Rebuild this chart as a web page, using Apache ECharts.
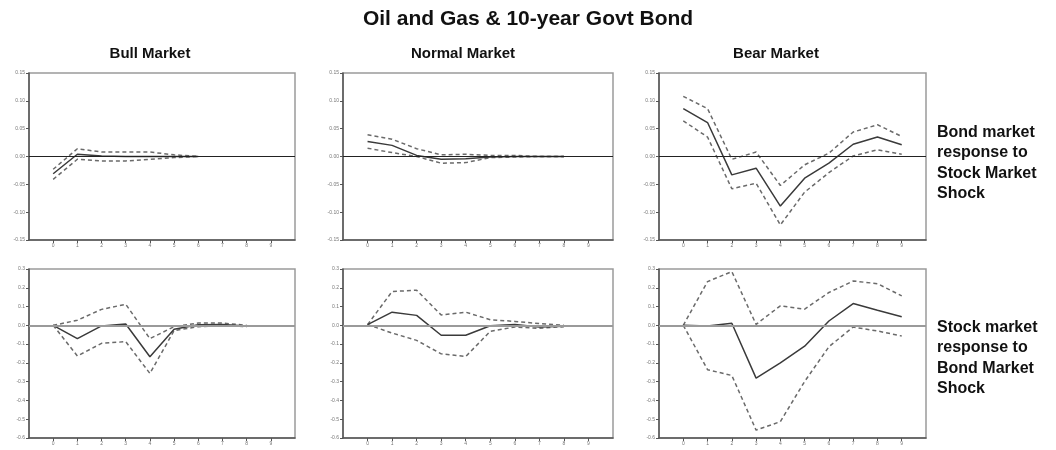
<!DOCTYPE html>
<html><head><meta charset="utf-8">
<script src="https://cdn.jsdelivr.net/npm/echarts@6/dist/echarts.min.js"></script>
<style>html,body{margin:0;padding:0;background:#fff}#c{width:1056px;height:450px}</style>
</head><body><div id="c"></div>
<script>
// ---- data ----
var mainTitle = 'Oil and Gas & 10-year Govt Bond';
var columnTitles = ['Bull Market', 'Normal Market', 'Bear Market'];
var rowLabels = ['Bond market\nresponse to\nStock Market\nShock', 'Stock market\nresponse to\nBond Market\nShock'];
var xTickLabels = ['0','1','2','3','4','5','6','7','8','9'];
var bondTicks = [-0.15, -0.10, -0.05, 0.00, 0.05, 0.10, 0.15];
var stockTicks = [-0.6, -0.5, -0.4, -0.3, -0.2, -0.1, 0.0, 0.1, 0.2, 0.3];

// Bond market response to stock market shock
var bullBondMid = [-0.031, 0.004, 0.001, 0.000, 0.000, 0.000, 0.000];
var bullBondUp  = [-0.023, 0.014, 0.008, 0.008, 0.008, 0.003, 0.000];
var bullBondLo  = [-0.041, -0.005, -0.008, -0.008, -0.005, -0.002, 0.000];

var normBondMid = [0.027, 0.020, 0.002, -0.005, -0.004, -0.001, 0.000, 0.000, 0.000];
var normBondUp  = [0.039, 0.031, 0.014, 0.003, 0.004, 0.002, 0.002, 0.000, 0.000];
var normBondLo  = [0.015, 0.007, 0.000, -0.012, -0.011, -0.002, -0.001, 0.000, 0.000];

var bearBondMid = [0.086, 0.061, -0.033, -0.021, -0.089, -0.039, -0.012, 0.022, 0.035, 0.021];
var bearBondUp  = [0.108, 0.086, -0.005, 0.008, -0.052, -0.015, 0.006, 0.044, 0.057, 0.036];
var bearBondLo  = [0.064, 0.035, -0.058, -0.048, -0.123, -0.064, -0.029, 0.001, 0.012, 0.004];

// Stock market response to bond market shock
var bullStockMid = [0.000, -0.071, -0.003, 0.007, -0.167, -0.021, 0.003, 0.005, -0.003];
var bullStockUp  = [0.000, 0.027, 0.085, 0.112, -0.071, -0.007, 0.012, 0.012, 0.000];
var bullStockLo  = [0.000, -0.163, -0.096, -0.087, -0.256, -0.028, -0.007, -0.002, -0.007];

var normStockMid = [0.004, 0.070, 0.053, -0.053, -0.053, -0.002, 0.005, -0.009, -0.005];
var normStockUp  = [0.004, 0.180, 0.187, 0.055, 0.070, 0.030, 0.021, 0.009, 0.000];
var normStockLo  = [0.004, -0.041, -0.080, -0.152, -0.166, -0.032, -0.009, -0.016, -0.007];

var bearStockMid = [0.000, -0.004, 0.011, -0.281, -0.200, -0.111, 0.023, 0.116, 0.080, 0.046];
var bearStockUp  = [0.000, 0.233, 0.286, 0.005, 0.104, 0.086, 0.175, 0.236, 0.222, 0.157];
var bearStockLo  = [0.000, -0.236, -0.267, -0.558, -0.513, -0.299, -0.114, -0.009, -0.030, -0.057];

var panels = [
  [bullBondMid, bullBondUp, bullBondLo],
  [normBondMid, normBondUp, normBondLo],
  [bearBondMid, bearBondUp, bearBondLo],
  [bullStockMid, bullStockUp, bullStockLo],
  [normStockMid, normStockUp, normStockLo],
  [bearStockMid, bearStockUp, bearStockLo]
];

// ---- layout ----
var colLeft = [29, 343, 659];
var colWidth = [266, 270, 267];
var rowTop = [73, 269];
var rowHeight = [167, 169];

var grids = [], xAxes = [], yAxes = [], series = [];
function pairs(arr) { return arr.map(function (v, i) { return [i, v]; }); }
function makeYFmt(rr) { return function (v) { return rr === 0 ? v.toFixed(2) : v.toFixed(1); }; }

for (var p = 0; p < 6; p++) {
  var r = Math.floor(p / 3), c = p % 3;
  grids.push({left: colLeft[c], top: rowTop[r], width: colWidth[c], height: rowHeight[r],
    show: true, borderColor: '#9a9a9a', borderWidth: 1.5, containLabel: false});
  xAxes.push({type: 'value', gridIndex: p, min: -1, max: 10, interval: 1,
    axisLine: {show: true, onZero: false, lineStyle: {color: '#555', width: 1.5}},
    axisTick: {show: true, length: 3, lineStyle: {color: '#555'}},
    splitLine: {show: false},
    axisLabel: {fontSize: 5, color: '#777', margin: 3, fontFamily: 'Liberation Sans',
      showMinLabel: false, showMaxLabel: false,
      formatter: function (v) { var i = Math.round(v); return (i >= 0 && i < xTickLabels.length) ? xTickLabels[i] : ''; }}
  });
  var ticks = r === 0 ? bondTicks : stockTicks;
  yAxes.push({type: 'value', gridIndex: p, min: ticks[0], max: ticks[ticks.length - 1],
    interval: r === 0 ? 0.05 : 0.1,
    axisLine: {show: true, onZero: false, lineStyle: {color: '#555', width: 1.5}},
    axisTick: {show: true, length: 3, lineStyle: {color: '#555'}},
    splitLine: {show: false},
    axisLabel: {fontSize: 5, color: '#777', margin: 4, fontFamily: 'Liberation Sans',
      formatter: makeYFmt(r)}
  });
  var d = panels[p];
  series.push({type: 'line', xAxisIndex: p, yAxisIndex: p, data: pairs(d[0]), symbol: 'none',
    lineStyle: {color: '#3a3a3a', width: 1.5}, silent: true, z: 3,
    markLine: {silent: true, symbol: 'none', label: {show: false},
      lineStyle: {type: 'solid', color: r === 0 ? '#222' : '#9a9a9a', width: r === 0 ? 1 : 2},
      data: [{yAxis: 0}]}
  });
  for (var k = 1; k <= 2; k++) {
    series.push({type: 'line', xAxisIndex: p, yAxisIndex: p, data: pairs(d[k]), symbol: 'none',
      lineStyle: {color: '#6a6a6a', width: 1.5, type: [4, 3]}, silent: true, z: 2});
  }
}

var graphics = [];
graphics.push({type: 'text', left: 'center', top: 9, style: {text: mainTitle,
  font: 'bold 21px "Liberation Sans", Arial, sans-serif', fill: '#111'}});
var colCenters = [150, 463, 776];
for (var c2 = 0; c2 < 3; c2++) {
  graphics.push({type: 'text', x: colCenters[c2], y: 46, style: {text: columnTitles[c2],
    font: 'bold 15px "Liberation Sans", Arial, sans-serif', fill: '#111', align: 'center'}});
}
graphics.push({type: 'text', x: 937, y: 122, style: {text: rowLabels[0],
  font: 'bold 16px "Liberation Sans", Arial, sans-serif', fill: '#111', lineHeight: 20.5}});
graphics.push({type: 'text', x: 937, y: 317, style: {text: rowLabels[1],
  font: 'bold 16px "Liberation Sans", Arial, sans-serif', fill: '#111', lineHeight: 20.5}});

var chart = echarts.init(document.getElementById('c'), null, {renderer: 'canvas'});
chart.setOption({
  animation: false,
  backgroundColor: '#fff',
  grid: grids, xAxis: xAxes, yAxis: yAxes, series: series,
  graphic: graphics
});
</script></body></html>
